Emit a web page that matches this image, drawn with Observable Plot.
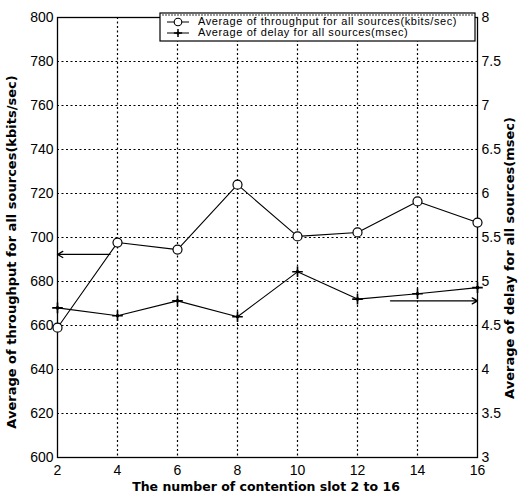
<!DOCTYPE html>
<html><head><meta charset="utf-8">
<script src="https://cdn.jsdelivr.net/npm/d3@7"></script>
<script src="https://cdn.jsdelivr.net/npm/@observablehq/plot@0.6"></script>
<style>body{margin:0;background:#fff}</style>
</head><body><div id="chart"></div>
<script>
const slots = [2, 4, 6, 8, 10, 12, 14, 16];
const throughput = [659, 697.7, 694.5, 724, 700.5, 702.3, 716.4, 706.8];
const delay = [4.70, 4.61, 4.78, 4.60, 5.11, 4.80, 4.86, 4.93];
const leftTicks = [600, 620, 640, 660, 680, 700, 720, 740, 760, 780, 800];
const rightTicks = [3, 3.5, 4, 4.5, 5, 5.5, 6, 6.5, 7, 7.5, 8];
const xTicks = [2, 4, 6, 8, 10, 12, 14, 16];
const labels = {
  left: "Average of throughput for all sources(kbits/sec)",
  right: "Average of delay for all sources(msec)",
  x: "The number of contention slot 2 to 16",
  s1: "Average of throughput for all sources(kbits/sec)",
  s2: "Average of delay for all sources(msec)"
};
// annotation arrows: series -> axis
const arrowThroughput = {x1: 3.75, x2: 2, y: 692.3};
const arrowDelay = {x1: 13.1, x2: 16, y: 4.78};

// map delay (3..8) onto throughput scale (600..800)
const d2t = d => 600 + (d - 3) * 40;
const tData = slots.map((s, i) => ({x: s, y: throughput[i]}));
const dData = slots.map((s, i) => ({x: s, y: d2t(delay[i])}));
const arrows = [
  {x1: arrowThroughput.x1, x2: arrowThroughput.x2, y1: arrowThroughput.y, y2: arrowThroughput.y},
  {x1: arrowDelay.x1, x2: arrowDelay.x2, y1: d2t(arrowDelay.y), y2: d2t(arrowDelay.y)}
];

const W = 523, H = 499, ML = 57, MR = 46, MT = 17, MB = 42;
const font = "Liberation Sans, Arial, sans-serif";
const bold = "DejaVu Sans, Liberation Sans, sans-serif";

const plot = Plot.plot({
  width: W, height: H,
  marginLeft: ML, marginRight: MR, marginTop: MT, marginBottom: MB,
  style: {fontFamily: font, fontSize: "14px", background: "#fff", color: "#000"},
  x: {domain: [2, 16]},
  y: {domain: [600, 800]},
  marks: [
    Plot.gridX(xTicks.slice(1, -1), {stroke: "#000", strokeOpacity: 1, strokeDasharray: "2,2.5", strokeWidth: 1.2}),
    Plot.gridY(leftTicks.slice(1, -1), {stroke: "#000", strokeOpacity: 1, strokeDasharray: "2,2.5", strokeWidth: 1.2}),
    Plot.frame({stroke: "#000", strokeWidth: 1.3}),
    Plot.axisX({ticks: xTicks, tickSize: 0, tickPadding: 8, label: null, fontSize: 14}),
    Plot.axisY({ticks: leftTicks, tickSize: 0, tickPadding: 4, label: null, fontSize: 14}),
    Plot.axisY({anchor: "right", ticks: leftTicks, tickSize: 0, tickPadding: 4, label: null, fontSize: 14,
      tickFormat: v => String(rightTicks[leftTicks.indexOf(v)])}),
    Plot.line(tData, {x: "x", y: "y", stroke: "#000", strokeWidth: 1.1}),
    Plot.dot(tData, {x: "x", y: "y", r: 4.5, stroke: "#000", fill: "#fff", strokeWidth: 1.2}),
    Plot.line(dData, {x: "x", y: "y", stroke: "#000", strokeWidth: 1.1}),
    Plot.dot(dData, {x: "x", y: "y", symbol: "plus", r: 3.5, stroke: "#000", strokeWidth: 1.6}),
    Plot.dot(dData, {x: "x", y: "y", r: 1.8, fill: "#000"}),
    Plot.arrow(arrows, {x1: "x1", y1: "y1", x2: "x2", y2: "y2", stroke: "#000", strokeWidth: 1.3, headLength: 7, bend: 0})
  ]
});
document.getElementById("chart").appendChild(plot);

const svg = d3.select(plot);
svg.append("text").attr("transform", `translate(12,252) rotate(-90)`)
  .attr("text-anchor", "middle").attr("dominant-baseline", "middle")
  .attr("font-family", bold).attr("font-weight", "bold").attr("font-size", 13)
  .text(labels.left);
svg.append("text").attr("transform", `translate(510,258) rotate(-90)`)
  .attr("text-anchor", "middle").attr("dominant-baseline", "middle")
  .attr("font-family", bold).attr("font-weight", "bold").attr("font-size", 13)
  .text(labels.right);
svg.append("text").attr("x", 266).attr("y", 491)
  .attr("text-anchor", "middle")
  .attr("font-family", bold).attr("font-weight", "bold").attr("font-size", 12.5)
  .text(labels.x);

// legend
const lg = svg.append("g");
const lx = 160, ly = 13, lw = W - MR - lx - 2, lh = 28;
lg.append("rect").attr("x", lx).attr("y", ly).attr("width", lw).attr("height", lh)
  .style("fill", "#fff").style("stroke", "#000").style("stroke-width", 1.2);
lg.append("line").attr("x1", lx + 2).attr("x2", lx + lw - 2).attr("y1", ly + 2).attr("y2", ly + 2)
  .style("stroke", "#000").style("stroke-dasharray", "2,1").style("stroke-width", 0.8);
const rows = [{t: labels.s1, sym: "circle", y: ly + 9}, {t: labels.s2, sym: "plus", y: ly + 20}];
rows.forEach(r => {
  lg.append("line").attr("x1", lx + 7).attr("x2", lx + 29).attr("y1", r.y).attr("y2", r.y)
    .style("stroke", "#000").style("stroke-width", 1);
  if (r.sym === "circle") {
    lg.append("circle").attr("cx", lx + 18).attr("cy", r.y).attr("r", 3.8)
      .style("fill", "#fff").style("stroke", "#000").style("stroke-width", 1.1);
  } else {
    lg.append("path").attr("d", d3.symbol(d3.symbolPlus, 24)()).attr("transform", `translate(${lx + 18},${r.y})`)
      .style("fill", "none").style("stroke", "#000").style("stroke-width", 1.5);
    lg.append("circle").attr("cx", lx + 18).attr("cy", r.y).attr("r", 1.6).style("fill", "#000");
  }
  lg.append("text").attr("x", lx + 38).attr("y", r.y).attr("dominant-baseline", "middle")
    .attr("text-anchor", "start").attr("letter-spacing", 0.6)
    .attr("font-family", font).attr("font-size", 11).text(r.t);
});
</script>
</body></html>
